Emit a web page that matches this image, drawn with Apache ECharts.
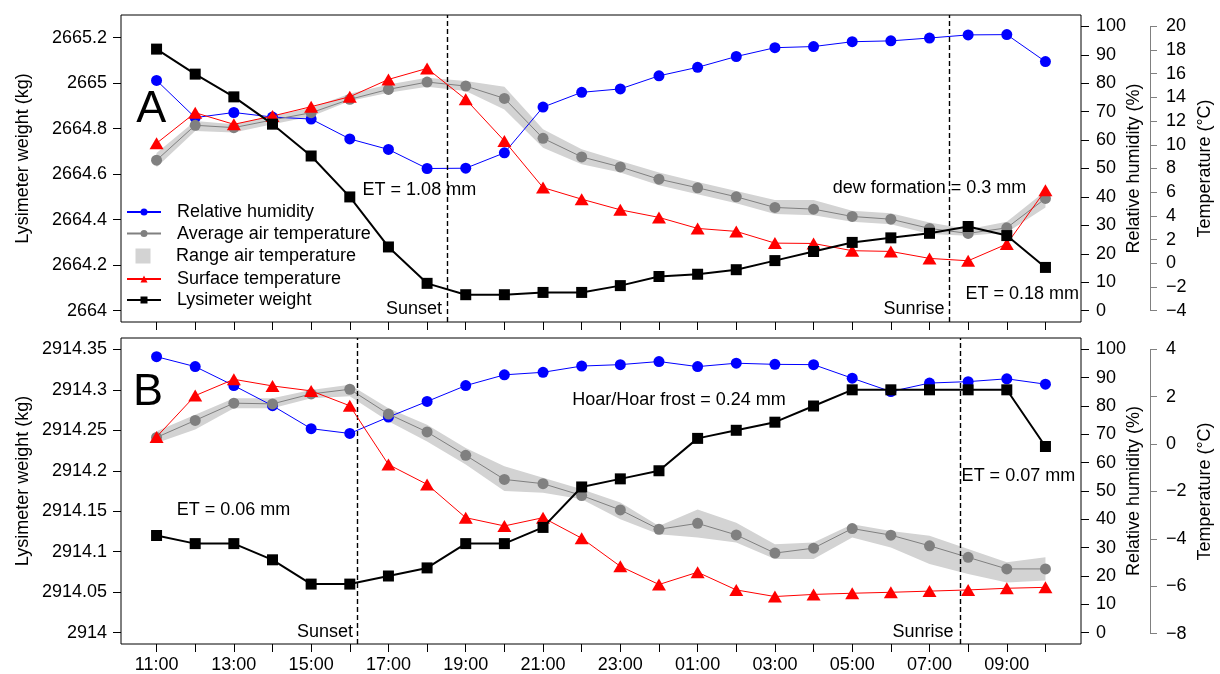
<!DOCTYPE html>
<html><head><meta charset="utf-8">
<script src="https://cdn.jsdelivr.net/npm/echarts@6/dist/echarts.min.js"></script>
<style>html,body{margin:0;padding:0;background:#fff}#c{width:1220px;height:674px}</style>
</head><body><div id="c"></div>
<script>
// ---------- data ----------
const hours = ['11:00','12:00','13:00','14:00','15:00','16:00','17:00','18:00','19:00','20:00','21:00','22:00',
  '23:00','00:00','01:00','02:00','03:00','04:00','05:00','06:00','07:00','08:00','09:00','10:00'];

// Panel A
const weightA = [2665.15,2665.04,2664.94,2664.82,2664.68,2664.50,2664.28,2664.12,2664.07,2664.07,2664.08,2664.08,
  2664.11,2664.15,2664.16,2664.18,2664.22,2664.26,2664.30,2664.32,2664.34,2664.37,2664.33,2664.19];
const rhA = [81.0,67.9,69.7,68.1,67.4,60.4,56.7,50.0,50.1,55.5,71.6,76.8,78.0,82.6,85.6,89.4,92.5,92.9,94.6,94.9,95.9,97.0,97.1,87.6];
const avgTA = [8.70,11.65,11.45,12.1,12.71,13.84,14.68,15.30,14.96,13.92,10.55,8.98,8.13,7.10,6.37,5.61,4.71,4.57,3.95,3.72,2.94,2.52,2.99,5.47];
const maxTA = [9.3,12.01,11.73,12.43,13.13,14.31,15.10,15.66,15.38,14.90,11.31,9.62,8.64,7.66,6.87,6.11,5.33,5.33,4.43,4.23,3.44,2.88,3.50,6.11];
const minTA = [8.1,11.17,11.03,11.73,12.38,13.70,14.40,14.90,14.54,12.99,9.76,8.36,7.66,6.59,5.83,5.07,4.15,4.06,3.50,3.30,2.46,2.32,2.60,4.71];
const surfTA = [10.13,12.71,11.73,12.43,13.22,14.06,15.52,16.45,13.84,10.33,6.39,5.41,4.51,3.87,2.94,2.69,1.70,1.67,1.06,1.00,0.41,0.21,1.62,6.17];
const sunsetA = 7.51, sunriseA = 20.51;

// Panel B
const weightB = [2914.12,2914.11,2914.11,2914.09,2914.06,2914.06,2914.07,2914.08,2914.11,2914.11,2914.13,2914.18,
  2914.19,2914.20,2914.24,2914.25,2914.26,2914.28,2914.30,2914.30,2914.30,2914.30,2914.30,2914.23];
const rhB = [97.4,93.9,87.2,80.1,72.0,70.3,76.1,81.6,87.2,91.0,91.9,94.1,94.6,95.7,93.9,95.1,94.7,94.6,89.8,85.1,88.1,88.6,89.6,87.7];
const avgTB = [0.27,0.99,1.72,1.69,2.11,2.31,1.26,0.50,-0.49,-1.51,-1.69,-2.19,-2.80,-3.62,-3.37,-3.86,-4.63,-4.42,-3.59,-3.87,-4.32,-4.81,-5.30,-5.30];
const maxTB = [0.53,1.23,1.93,1.93,2.28,2.50,1.51,0.81,-0.18,-0.95,-1.44,-1.93,-2.49,-3.48,-2.78,-3.34,-4.25,-4.18,-3.41,-3.69,-3.90,-4.46,-5.02,-4.81];
const minTB = [0.03,0.60,1.51,1.51,1.93,2.01,0.95,0.10,-0.88,-2.00,-2.07,-2.35,-3.20,-3.83,-3.97,-4.18,-4.88,-4.88,-3.97,-4.39,-5.09,-5.51,-5.87,-5.79];
const surfTB = [0.29,2.04,2.73,2.45,2.24,1.61,-0.88,-1.72,-3.13,-3.48,-3.13,-4.00,-5.19,-5.96,-5.44,-6.19,-6.47,-6.38,-6.33,-6.29,-6.24,-6.19,-6.12,-6.08];
const sunsetB = 5.20, sunriseB = 20.80;

// tick labels
const weightTicksA = [2664,2664.2,2664.4,2664.6,2664.8,2665,2665.2];
const weightTicksB = [2914,2914.05,2914.1,2914.15,2914.2,2914.25,2914.3,2914.35];
const rhTicks = [0,10,20,30,40,50,60,70,80,90,100];
const tempTicksA = [-4,-2,0,2,4,6,8,10,12,14,16,18,20];
const tempTicksB = [-8,-6,-4,-2,0,2,4];

// ---------- layout ----------
const FONT = 'Liberation Sans, Arial, Helvetica, sans-serif';
const FS = 18;
const L = 121, R = 139, H = 307;
const TOPS = [15, 338];
const EXT = 0.04 / 1.08;
const xIdx = hours.map((h, i) => i);
const xLab = xIdx.filter(i => i % 2 === 0);
const pairs = arr => arr.map((v, i) => [i, v]);
const fmtNum = v => String(parseFloat((+v).toFixed(3)));
const fmtMinus = v => fmtNum(v).replace('-', '\u2212');
const txtStyle = { fontFamily: FONT, fontSize: FS, color: '#000' };

function ann(x, y, s, size) {
  return { coord: [x, y], symbol: 'rect', symbolSize: 1, itemStyle: { color: 'rgba(0,0,0,0)' },
    label: { show: true, position: 'inside', formatter: s, fontFamily: FONT, fontSize: size || FS, color: '#000' } };
}

const grids = [
  { left: L, right: R, top: TOPS[0], height: H, show: true, borderColor: '#000', borderWidth: 1, backgroundColor: 'transparent' },
  { left: L, right: R, top: TOPS[1], height: H, show: true, borderColor: '#000', borderWidth: 1, backgroundColor: 'transparent' },
  { left: 1100, right: 70, top: TOPS[0] + H * EXT, height: H / 1.08 },
  { left: 1100, right: 70, top: TOPS[1] + H * EXT, height: H / 1.08 }
];

function xAx(g, labels) {
  return { gridIndex: g, type: 'value', position: 'bottom', min: -0.92, max: 23.92,
    axisLine: { show: false, onZero: false }, splitLine: { show: false },
    axisTick: { show: true, length: 8, customValues: xIdx, lineStyle: { color: '#000', width: 1 } },
    axisLabel: { show: labels, customValues: xLab, formatter: v => hours[Math.round(v)] || '', margin: 12, ...txtStyle } };
}
const xAxes = [xAx(0, false), xAx(1, true),
  { gridIndex: 2, type: 'value', show: false, min: 0, max: 1, axisLine: { onZero: false } },
  { gridIndex: 3, type: 'value', show: false, min: 0, max: 1, axisLine: { onZero: false } }];

function wAx(g, mn, mx, ticks) {
  return { gridIndex: g, type: 'value', position: 'left', min: mn, max: mx,
    axisLine: { show: false, onZero: false }, splitLine: { show: false },
    axisTick: { show: true, length: 8, customValues: ticks, lineStyle: { color: '#000', width: 1 } },
    axisLabel: { customValues: ticks, formatter: fmtNum, margin: 14, ...txtStyle },
    name: 'Lysimeter weight (kg)', nameLocation: 'middle', nameRotate: 90, nameGap: 89, nameMoveOverlap: false,
    nameTextStyle: { ...txtStyle, padding: [0, 0, 0, 20] } };
}
function rhAx(g) {
  return { gridIndex: g, type: 'value', position: 'right', min: -4, max: 104,
    axisLine: { show: false, onZero: false }, splitLine: { show: false },
    axisTick: { show: true, length: 8, customValues: rhTicks, lineStyle: { color: '#000', width: 1 } },
    axisLabel: { customValues: rhTicks, formatter: fmtNum, margin: 15, ...txtStyle },
    name: 'Relative humidity (%)', nameLocation: 'middle', nameRotate: 90, nameGap: 44, nameMoveOverlap: false,
    nameTextStyle: { ...txtStyle } };
}
function tHidden(g, mn, mx) { return { gridIndex: g, type: 'value', min: mn, max: mx, show: false, axisLine: { onZero: false } }; }
function tAx(g, ticks) {
  return { gridIndex: g, type: 'value', position: 'right', min: ticks[0], max: ticks[ticks.length - 1], interval: 2,
    axisLine: { show: true, onZero: false, lineStyle: { color: '#808080', width: 1 } }, splitLine: { show: false },
    axisTick: { show: true, length: 7, lineStyle: { color: '#808080', width: 1 } },
    axisLabel: { formatter: fmtMinus, margin: 16, ...txtStyle },
    name: 'Temperature (\u00B0C)', nameLocation: 'middle', nameRotate: 90, nameGap: 46, nameMoveOverlap: false,
    nameTextStyle: { ...txtStyle } };
}
const yAxes = [
  wAx(0, 2663.95, 2665.30, weightTicksA), rhAx(0), tHidden(0, -4.96, 20.96),
  wAx(1, 2913.986, 2914.364, weightTicksB), rhAx(1), tHidden(1, -8.48, 4.48),
  tAx(2, tempTicksA), tAx(3, tempTicksB)
];

function bandSeries(p, yt, mx, mn) {
  const rows = mn.map((v, i) => [i, v, mx[i]]);
  return { name: 'Range air temperature', type: 'custom', coordinateSystem: 'cartesian2d',
    xAxisIndex: p, yAxisIndex: yt, data: rows, encode: { x: 0, y: [1, 2] }, silent: true, z: 1,
    color: '#D3D3D3', itemStyle: { color: '#D3D3D3' },
    renderItem: function (params, api) {
      if (params.dataIndex !== 0) return null;
      const up = rows.map(r => api.coord([r[0], r[2]]));
      const lo = rows.map(r => api.coord([r[0], r[1]])).reverse();
      return { type: 'polygon', shape: { points: up.concat(lo) }, style: { fill: '#D3D3D3' } };
    } };
}

function panelSeries(p, w, rh, avg, mx, mn, surf, sunset, sunrise, anns) {
  const yw = p * 3, yr = p * 3 + 1, yt = p * 3 + 2;
  return [
    bandSeries(p, yt, mx, mn),
    { name: 'Relative humidity', type: 'line', xAxisIndex: p, yAxisIndex: yr, data: pairs(rh),
      symbol: 'circle', symbolSize: 11, showAllSymbol: true, color: '#0000FF',
      itemStyle: { color: '#0000FF', borderWidth: 0 }, lineStyle: { color: '#0000FF', width: 1 }, z: 3 },
    { name: 'Average air temperature', type: 'line', xAxisIndex: p, yAxisIndex: yt, data: pairs(avg),
      symbol: 'circle', symbolSize: 11, showAllSymbol: true, color: '#808080',
      itemStyle: { color: '#808080', borderWidth: 0 }, lineStyle: { color: '#808080', width: 1 }, z: 4 },
    { name: 'Surface temperature', type: 'line', xAxisIndex: p, yAxisIndex: yt, data: pairs(surf),
      symbol: 'triangle', symbolSize: [14, 12], showAllSymbol: true, color: '#FF0000',
      itemStyle: { color: '#FF0000', borderWidth: 0 }, lineStyle: { color: '#FF0000', width: 1 }, z: 5 },
    { name: 'Lysimeter weight', type: 'line', xAxisIndex: p, yAxisIndex: yw, data: pairs(w),
      symbol: 'rect', symbolSize: 11, showAllSymbol: true, color: '#000',
      itemStyle: { color: '#000', borderWidth: 0 }, lineStyle: { color: '#000', width: 2 }, z: 6,
      markLine: { silent: true, symbol: ['none', 'none'], label: { show: false },
        lineStyle: { color: '#000', type: [5, 3], width: 1.4 },
        data: [{ xAxis: sunset }, { xAxis: sunrise }] },
      markPoint: { silent: true, data: anns } }
  ];
}

const annA = [
  ann(-0.14, 2664.882, 'A', 45),
  ann(6.80, 2664.53, 'ET = 1.08 mm'),
  ann(6.66, 2664.007, 'Sunset'),
  ann(20.0, 2664.539, 'dew formation = 0.3 mm'),
  ann(19.60, 2664.007, 'Sunrise'),
  ann(22.40, 2664.073, 'ET = 0.18 mm')
];
const annB = [
  ann(-0.22, 2914.297, 'B', 45),
  ann(1.99, 2914.152, 'ET = 0.06 mm'),
  ann(4.36, 2914.001, 'Sunset'),
  ann(13.52, 2914.287, 'Hoar/Hoar frost = 0.24 mm'),
  ann(19.83, 2914.001, 'Sunrise'),
  ann(22.30, 2914.193, 'ET = 0.07 mm')
];

const legBase = { orient: 'vertical', left: 126, padding: 0, itemWidth: 34, selectedMode: false,
  textStyle: { ...txtStyle, lineHeight: 18, padding: [0, 0, 0, 11] } };

const option = {
  animation: false,
  backgroundColor: '#fff',
  textStyle: { fontFamily: FONT },
  grid: grids,
  xAxis: xAxes,
  yAxis: yAxes,
  legend: [
    { ...legBase, top: 203, itemHeight: 8.75, itemGap: 3.6, data: ['Relative humidity', 'Average air temperature'] },
    { ...legBase, top: 247, itemHeight: 15, itemGap: 4,
      data: [{ name: 'Range air temperature', icon: 'path://M0,0M34,15M9.5,0h15v15h-15Z', itemStyle: { color: '#D3D3D3' } }] },
    { ...legBase, top: 270, itemHeight: 8.75, itemGap: 3, data: ['Surface temperature', 'Lysimeter weight'] }
  ],
  series: [
    ...panelSeries(0, weightA, rhA, avgTA, maxTA, minTA, surfTA, sunsetA, sunriseA, annA),
    ...panelSeries(1, weightB, rhB, avgTB, maxTB, minTB, surfTB, sunsetB, sunriseB, annB)
  ]
};
const chart = echarts.init(document.getElementById('c'), null, { renderer: 'canvas' });
chart.setOption(option);
</script>
</body></html>
